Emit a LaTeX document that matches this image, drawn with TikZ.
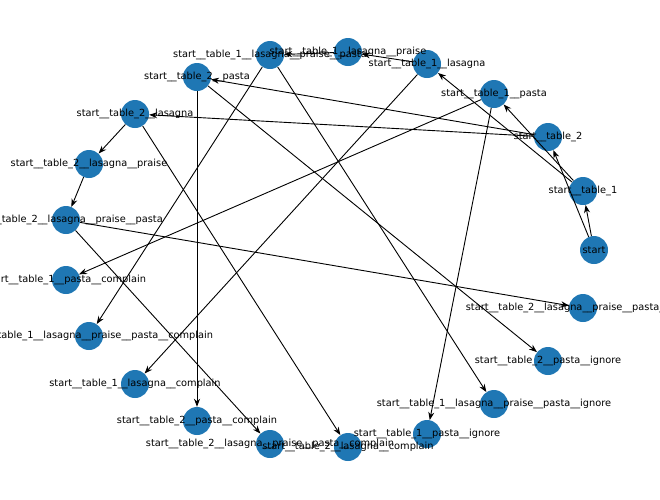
\documentclass[tikz,border=0pt]{standalone}
\usepackage{fontspec}
\setmainfont{DejaVu Sans}
\usetikzlibrary{arrows.meta}
\definecolor{nx}{HTML}{1F77B4}
\begin{document}
\begin{tikzpicture}[x=1pt,y=-1pt,
  nd/.style={circle,fill=nx,minimum size=28pt,inner sep=0pt},
  lb/.style={font=\fontsize{9.8}{11}\selectfont,inner sep=0pt},
  ed/.style={-{Stealth[length=8pt,width=6pt]},black,line width=0.9pt}]
\useasboundingbox (0,0) rectangle (660,499);
\foreach \n/\x/\y in {a/594/250,b/583/191,c/548/137,d/494/94,e/427/64,f/348/52,g/270/55,h/197/77,i/135/114,j/89/164,k/66/220,l/66/280,m/89/336,n/135/384,o/197/421,p/270/444,q/348/447,r/427/434,s/494/404,t/548/361,u/583/308}
  \node[nd] (\n) at (\x,\y) {};
\draw[ed] (a) -- (b);
\draw[ed] (a) -- (c);
\draw[ed] (b) -- (e);
\draw[ed] (b) -- (d);
\draw[ed] (c) -- (h);
\draw[ed] (c) -- (i);
\draw[ed] (e) -- (f);
\draw[ed] (f) -- (g);
\draw[ed] (e) -- (n);
\draw[ed] (d) -- (l);
\draw[ed] (d) -- (r);
\draw[ed] (g) -- (m);
\draw[ed] (g) -- (s);
\draw[ed] (h) -- (o);
\draw[ed] (h) -- (t);
\draw[ed] (i) -- (j);
\draw[ed] (i) -- (q);
\draw[ed] (j) -- (k);
\draw[ed] (k) -- (p);
\draw[ed] (k) -- (u);
\node[lb] (la) at (a) {start};
\node[lb] (lb) at (b) {start\_\_table\_1};
\node[lb] (lc) at (c) {start\_\_table\_2};
\node[lb] (ld) at (d) {start\_\_table\_1\_\_pasta};
\node[lb] (le) at (e) {start\_\_table\_1\_\_lasagna};
\node[lb] (lf) at (f) {start\_\_table\_1\_\_lasagna\_\_praise};
\node[lb] (lg) at (g) {start\_\_table\_1\_\_lasagna\_\_praise\_\_pasta};
\node[lb] (lh) at (h) {start\_\_table\_2\_\_pasta};
\node[lb] (li) at (i) {start\_\_table\_2\_\_lasagna};
\node[lb] (lj) at (j) {start\_\_table\_2\_\_lasagna\_\_praise};
\node[lb] (lk) at (k) {start\_\_table\_2\_\_lasagna\_\_praise\_\_pasta};
\node[lb] (ll) at (l) {start\_\_table\_1\_\_pasta\_\_complain};
\node[lb] (lm) at (m) {start\_\_table\_1\_\_lasagna\_\_praise\_\_pasta\_\_complain};
\node[lb] (ln) at (n) {start\_\_table\_1\_\_lasagna\_\_complain};
\node[lb] (lo) at (o) {start\_\_table\_2\_\_pasta\_\_complain};
\node[lb] (lp) at (p) {start\_\_table\_2\_\_lasagna\_\_praise\_\_pasta\_\_complain};
\node[lb] (lq) at (q) {start\_\_table\_2\_\_lasagna\_\_complain};
\node[lb] (lr) at (r) {start\_\_table\_1\_\_pasta\_\_ignore};
\node[lb] (ls) at (s) {start\_\_table\_1\_\_lasagna\_\_praise\_\_pasta\_\_ignore};
\node[lb] (lt) at (t) {start\_\_table\_2\_\_pasta\_\_ignore};
\node[lb] (lu) at (u) {start\_\_table\_2\_\_lasagna\_\_praise\_\_pasta\_\_ignore};
\end{tikzpicture}
\end{document}
